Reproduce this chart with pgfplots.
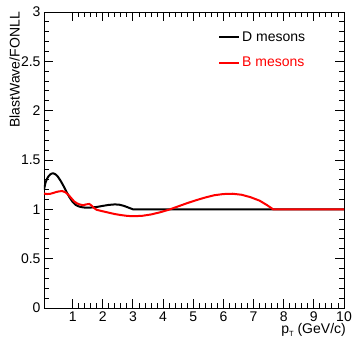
\documentclass[border=0pt]{standalone}
\usepackage{fontspec}
\setmainfont{Liberation Sans}
\usepackage{pgfplots}
\pgfplotsset{compat=1.18}
\begin{document}
\begin{tikzpicture}
\path[use as bounding box] (0,0) rectangle (353bp,339bp);
\begin{axis}[
  at={(44bp,31bp)}, anchor=south west,
  scale only axis, width=300bp, height=296bp,
  xmin=0.05, xmax=10, ymin=0, ymax=3,
  xtick={1,2,3,4,5,6,7,8,9,10},
  ytick={0,0.5,1,1.5,2,2.5,3},
  minor x tick num=4, minor y tick num=4,
  tick align=inside, tick pos=both,
  major tick length=9bp, minor tick length=5bp,
  axis line style={line width=0.9bp},
  every tick/.style={line width=0.9bp, black},
  /pgf/number format/assume math mode=true,
  tick label style={font=\fontsize{14bp}{16bp}\selectfont},
  xticklabel style={inner sep=0pt, yshift=-3.8bp},
  label style={font=\fontsize{14bp}{16bp}\selectfont},
  xlabel={p\raisebox{-3bp}{\fontsize{7.5bp}{8bp}\selectfont T} (GeV/c)},
  xlabel style={at={(axis description cs:1,0)}, anchor=north east, inner sep=0pt, yshift=-15bp, xshift=2bp},
  ylabel={BlastWave/FONLL},
  ylabel style={at={(axis description cs:0,1)}, anchor=south east, inner sep=0pt, yshift=24bp, xshift=0bp},
  legend style={draw=none, fill=none, at={(0.57,0.948)}, anchor=north west,
    font=\fontsize{14bp}{16bp}\selectfont, row sep=10.5bp},
  legend cell align=left,
  legend image code/.code={\draw[#1] (0bp,0bp) -- (20bp,0bp);},
]
\addplot[black, line width=2bp] coordinates {
(0.05,1.20) (0.1,1.27) (0.15,1.31) (0.2,1.335) (0.25,1.352) (0.3,1.362) (0.35,1.365) (0.4,1.36)
(0.45,1.35) (0.5,1.335) (0.6,1.29) (0.7,1.235) (0.8,1.175) (0.9,1.12) (1.0,1.075) (1.1,1.045)
(1.2,1.03) (1.3,1.022) (1.4,1.018) (1.6,1.018) (1.8,1.024) (2.0,1.035) (2.2,1.045) (2.4,1.05)
(2.55,1.047) (2.7,1.035) (2.85,1.018) (3.0,1.0) (10,1.0)};
\addlegendentry{D mesons}
\addplot[red, line width=2bp] coordinates {
(0.05,1.16) (0.15,1.155) (0.25,1.157) (0.35,1.165) (0.45,1.175) (0.55,1.182) (0.65,1.185) (0.75,1.175)
(0.85,1.15) (0.95,1.115) (1.05,1.08) (1.15,1.06) (1.25,1.048) (1.35,1.042) (1.45,1.05) (1.55,1.055)
(1.62,1.04) (1.7,1.015) (1.8,0.995) (2.0,0.98) (2.2,0.966) (2.4,0.952) (2.6,0.942) (2.8,0.934)
(3.0,0.93) (3.3,0.934) (3.6,0.948) (3.9,0.97) (4.2,0.997) (4.5,1.03) (4.8,1.063) (5.1,1.093)
(5.4,1.12) (5.7,1.143) (6.0,1.155) (6.3,1.158) (6.6,1.148) (6.9,1.123) (7.2,1.088) (7.45,1.042)
(7.65,1.0) (10,1.0)};
\addlegendentry{\textcolor{red}{B mesons}}
\end{axis}
\end{tikzpicture}
\end{document}
